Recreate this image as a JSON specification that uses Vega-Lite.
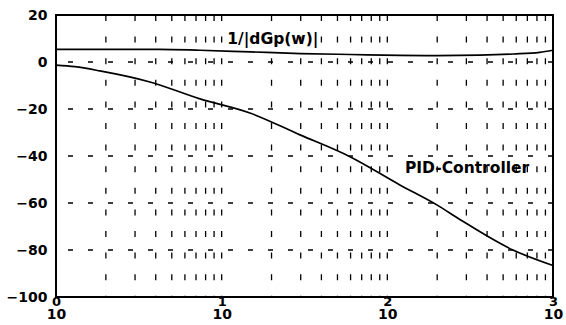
{
  "$schema": "https://vega.github.io/schema/vega-lite/v6.json",
  "width": 497,
  "height": 282,
  "autosize": "none",
  "padding": {"left": 56, "top": 15, "right": 13, "bottom": 28},
  "background": "white",
  "config": {
    "view": {"stroke": "black", "strokeWidth": 2},
    "font": "DejaVu Sans",
    "axisY": {
      "title": null, "values": [-100, -80, -60, -40, -20, 0, 20],
      "ticks": false, "domain": false, "grid": false,
      "labelFont": "DejaVu Sans", "labelFontWeight": "bold", "labelFontSize": 14,
      "labelColor": "black", "labelPadding": 9, "labelFlush": false
    }
  },
  "datasets": {
    "curves": [
      {"w": 1, "db": 5.4, "series": "inv"},
      {"w": 4.2, "db": 5.4, "series": "inv"},
      {"w": 7.4, "db": 5.0, "series": "inv"},
      {"w": 15, "db": 4.3, "series": "inv"},
      {"w": 30, "db": 3.6, "series": "inv"},
      {"w": 60, "db": 3.2, "series": "inv"},
      {"w": 119, "db": 2.8, "series": "inv"},
      {"w": 200, "db": 2.7, "series": "inv"},
      {"w": 360, "db": 2.9, "series": "inv"},
      {"w": 575, "db": 3.4, "series": "inv"},
      {"w": 830, "db": 4.1, "series": "inv"},
      {"w": 1000, "db": 5.0, "series": "inv"},
      {"w": 1, "db": -1.3, "series": "pid"},
      {"w": 1.3, "db": -2.0, "series": "pid"},
      {"w": 1.84, "db": -3.8, "series": "pid"},
      {"w": 3.69, "db": -8.5, "series": "pid"},
      {"w": 7.4, "db": -15.7, "series": "pid"},
      {"w": 14.8, "db": -21.7, "series": "pid"},
      {"w": 29.7, "db": -31.0, "series": "pid"},
      {"w": 59.5, "db": -40.3, "series": "pid"},
      {"w": 119, "db": -52.3, "series": "pid"},
      {"w": 199, "db": -60.8, "series": "pid"},
      {"w": 274, "db": -67.0, "series": "pid"},
      {"w": 573, "db": -80.0, "series": "pid"},
      {"w": 1000, "db": -86.6, "series": "pid"}
    ],
    "vgrid": [
      {"w": 2}, {"w": 3}, {"w": 4}, {"w": 5}, {"w": 6}, {"w": 7}, {"w": 8}, {"w": 9}, {"w": 10},
      {"w": 20}, {"w": 30}, {"w": 40}, {"w": 50}, {"w": 60}, {"w": 70}, {"w": 80}, {"w": 90}, {"w": 100},
      {"w": 200}, {"w": 300}, {"w": 400}, {"w": 500}, {"w": 600}, {"w": 700}, {"w": 800}, {"w": 900}
    ],
    "hgrid": [{"db": 0}, {"db": -20}, {"db": -40}, {"db": -60}, {"db": -80}],
    "labels": [
      {"w": 10.8, "db": 9.8, "text": "1/|dGp(w)|"},
      {"w": 127.7, "db": -45.1, "text": "PID-Controller"}
    ]
  },
  "resolve": {"axis": {"x": "independent"}},
  "layer": [
    {
      "data": {"name": "vgrid"},
      "mark": {"type": "rule", "color": "black", "strokeWidth": 1.3, "strokeDash": [6, 15.6]},
      "encoding": {
        "x": {
          "field": "w", "type": "quantitative",
          "scale": {"type": "log", "domain": [1, 1000], "nice": false},
          "axis": {
            "orient": "bottom", "title": null, "values": [1, 10, 100, 1000],
            "labelExpr": "datum.value < 5 ? '0' : datum.value < 50 ? '1' : datum.value < 500 ? '2' : '3'",
            "ticks": false, "domain": false, "grid": false,
            "labelFont": "DejaVu Sans", "labelFontWeight": "bold", "labelFontSize": 13,
            "labelColor": "black", "labelPadding": -2, "labelDx": 14, "labelFlush": false, "labelOverlap": false
          }
        }
      }
    },
    {
      "data": {"name": "hgrid"},
      "mark": {"type": "rule", "color": "black", "strokeWidth": 1.3, "strokeDash": [5, 15]},
      "encoding": {
        "y": {
          "field": "db", "type": "quantitative", "title": null,
          "scale": {"domain": [-100, 20], "nice": false}
        }
      }
    },
    {
      "data": {"name": "curves"},
      "mark": {"type": "line", "color": "black", "strokeWidth": 1.7, "interpolate": "monotone"},
      "encoding": {
        "x": {
          "field": "w", "type": "quantitative",
          "axis": {
            "orient": "bottom", "title": null, "values": [1, 10, 100, 1000], "labelExpr": "'10'",
            "ticks": false, "domain": false, "grid": false,
            "labelFont": "DejaVu Sans", "labelFontWeight": "bold", "labelFontSize": 14,
            "labelColor": "black", "labelPadding": 10, "labelDx": -6, "labelFlush": false, "labelOverlap": false
          }
        },
        "y": {"field": "db", "type": "quantitative", "title": null},
        "detail": {"field": "series", "type": "nominal"}
      }
    },
    {
      "data": {"name": "labels"},
      "mark": {"type": "text", "align": "left", "baseline": "middle", "fontSize": 15.5, "fontWeight": "bold", "color": "black", "font": "DejaVu Sans"},
      "encoding": {
        "x": {"field": "w", "type": "quantitative", "axis": null},
        "y": {"field": "db", "type": "quantitative", "title": null},
        "text": {"field": "text", "type": "nominal"}
      }
    }
  ]
}
